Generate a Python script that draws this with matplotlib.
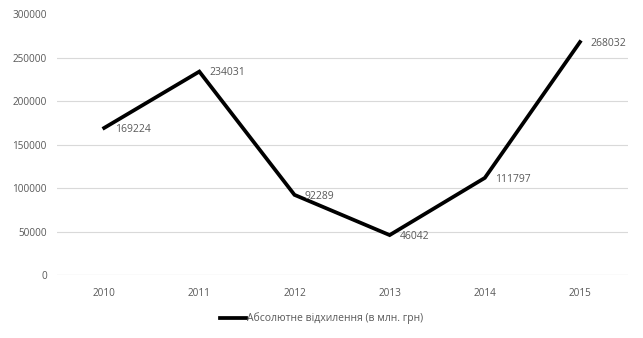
import matplotlib
matplotlib.use("Agg")
import matplotlib.pyplot as plt

years = ["2010", "2011", "2012", "2013", "2014", "2015"]
values = [169224, 234031, 92289, 46042, 111797, 268032]
series_name = "Абсолютне відхилення (в млн. грн)"
yticks = [0, 50000, 100000, 150000, 200000, 250000, 300000]

plt.rcParams['font.family'] = ['Open Sans', 'DejaVu Sans']
txt = '#595959'

fig = plt.figure(figsize=(6.43, 3.38), dpi=100)
ax = fig.add_axes([0.088, 0.186, 0.888, 0.772])
x = list(range(len(years)))
ax.plot(x, values, color='black', lw=2.7, solid_joinstyle='miter', label=series_name, zorder=3)
for xi, v in zip(x, values):
    ax.annotate(str(v), (xi, v), xytext=(7.5, -1), textcoords='offset points',
                ha='left', va='center', fontsize=7.5, color=txt, zorder=4)
ax.set_xlim(-0.5, len(years) - 0.5)
ax.set_ylim(0, 300000)
ax.set_xticks(x)
ax.set_xticklabels(years)
ax.set_yticks(yticks)
ax.set_yticklabels([str(t) for t in yticks])
ax.tick_params(axis='both', length=0, labelsize=7.2, colors=txt, pad=7)
ax.tick_params(axis='x', pad=9)
ax.grid(axis='y', color='#d9d9d9', lw=0.8)
ax.yaxis.get_gridlines()[-1].set_visible(False)
ax.set_axisbelow(True)
for s in ax.spines.values():
    s.set_visible(False)
ax.axhline(0, color='#d9d9d9', lw=0.8, zorder=1)
leg = fig.legend(loc='center', bbox_to_anchor=(0.5, 0.058), frameon=False, fontsize=7.5,
                 handlelength=2.5, handletextpad=0.15)
for t in leg.get_texts():
    t.set_color(txt)
fig.savefig('out.png', dpi=100)
